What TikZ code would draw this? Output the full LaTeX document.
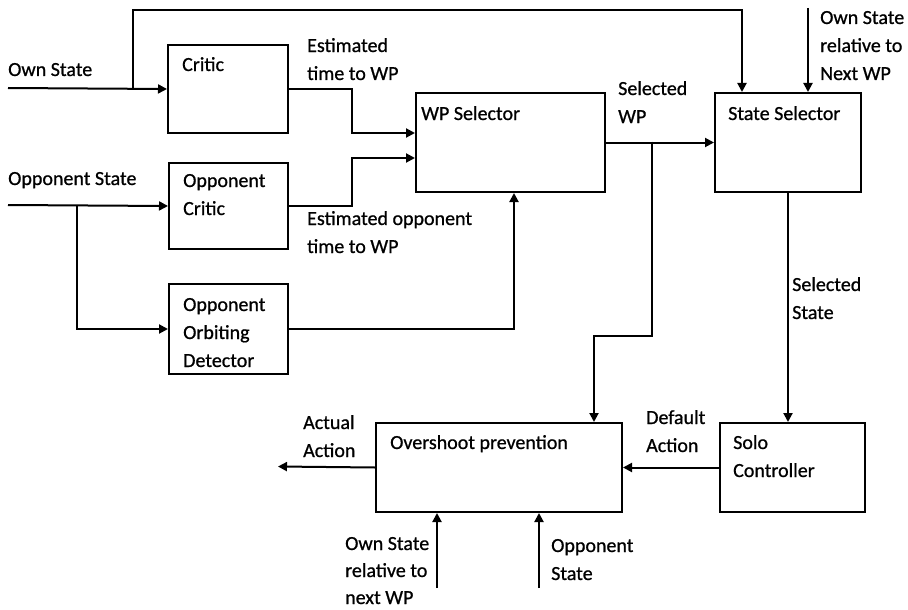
\documentclass[tikz,border=0pt]{standalone}
\usepackage{fontspec}
\setmainfont{Carlito}[FakeBold=0.8]
\usetikzlibrary{arrows.meta,calc}
\begin{document}
\begin{tikzpicture}[x=1pt,y=-1pt,
  box/.style={draw,line width=2pt,inner sep=0pt,anchor=north west},
  arr/.style={line width=2pt,-{Triangle[length=9pt,width=9pt]}},
  lbl/.style={anchor=base west,inner sep=0pt,align=left,font=\fontsize{20}{28}\selectfont}]
\useasboundingbox (0,0) rectangle (908,610);
% boxes
\node[box,minimum width=120pt,minimum height=88pt] (critic) at (167,44) {};
\node[box,minimum width=119pt,minimum height=86pt] (oppcritic) at (168,162) {};
\node[box,minimum width=119pt,minimum height=90pt] (orbit) at (168,283) {};
\node[box,minimum width=189pt,minimum height=99pt] (wpsel) at (415,92) {};
\node[box,minimum width=146pt,minimum height=99pt] (statesel) at (714,92) {};
\node[box,minimum width=145pt,minimum height=89pt] (solo) at (719,422) {};
\node[box,minimum width=246pt,minimum height=89pt] (over) at (375,422) {};
% box texts (anchor = baseline of last line)
\node[lbl] (tcritic) at (182,71) {Critic};
\node[lbl] (toppcritic) at (183,215) {Opponent\\Critic};
\node[lbl] (torbit) at (183,367) {Opponent\\Orbiting\\Detector};
\node[lbl] (twpsel) at (421,120) {WP Selector};
\node[lbl] (tstatesel) at (728,120) {State Selector};
\node[lbl] (tsolo) at (733,477) {Solo\\Controller};
\node[lbl] (tover) at (390,449) {Overshoot prevention};
% free ends
\coordinate (osin) at (8,88);
\coordinate (opsin) at (8,205);
\coordinate (osbr) at (133,88);
\coordinate (opbr) at (77,205);
\coordinate (osrn) at (808,8);
\coordinate (actual) at (278,466.5);
\coordinate (b1) at (437,588);
\coordinate (b2) at (539,588);
\coordinate (wpbr) at (652,141.5);
% connectors
\draw[arr] (osin) -- (critic.west);
\draw[arr] (osbr) -- (133,10) -| ([xshift=28pt]statesel.north west);
\draw[arr] (opsin) -- (oppcritic.west);
\draw[arr] (opbr) |- (orbit.west);
\draw[arr] (critic.east) -- ++(63,0) |- ([yshift=-41pt]wpsel.north west);
\draw[arr] (oppcritic.east) -- ++(63,0) |- ([yshift=-66pt]wpsel.north west);
\draw[arr] (orbit.east) -| ([xshift=99pt]wpsel.south west);
\draw[arr] (wpsel.east) -- (statesel.west);
\draw[arr] (wpbr) -- (652,336) -| ([xshift=219pt]over.north west);
\draw[arr] (osrn) -- (osrn |- statesel.north);
\draw[arr] (statesel.south) -- (statesel.south |- solo.north);
\draw[arr] (solo.west) -- (over.east);
\draw[arr] (over.west) -- (actual);
\draw[arr] (b1) -- (b1 |- over.south);
\draw[arr] (b2) -- (b2 |- over.south);
% labels
\node[lbl] (lown) at (8,76) {Own State};
\node[lbl] (lopp) at (8,185) {Opponent State};
\node[lbl] (lest) at (307,80) {Estimated\\time to WP};
\node[lbl] (lestop) at (307,253) {Estimated opponent\\time to WP};
\node[lbl] (lselwp) at (618,123) {Selected\\WP};
\node[lbl] (lownrel) at (820,80) {Own State\\relative to\\Next WP};
\node[lbl] (lselst) at (792,319) {Selected\\State};
\node[lbl] (lactual) at (303,457) {Actual\\Action};
\node[lbl] (ldefault) at (646,452) {Default\\Action};
\node[lbl,font=\fontsize{20}{27}\selectfont] (lownrel2) at (345,604) {Own State\\relative to\\next WP};
\node[lbl] (loppst) at (551,580) {Opponent\\State};
\end{tikzpicture}
\end{document}
